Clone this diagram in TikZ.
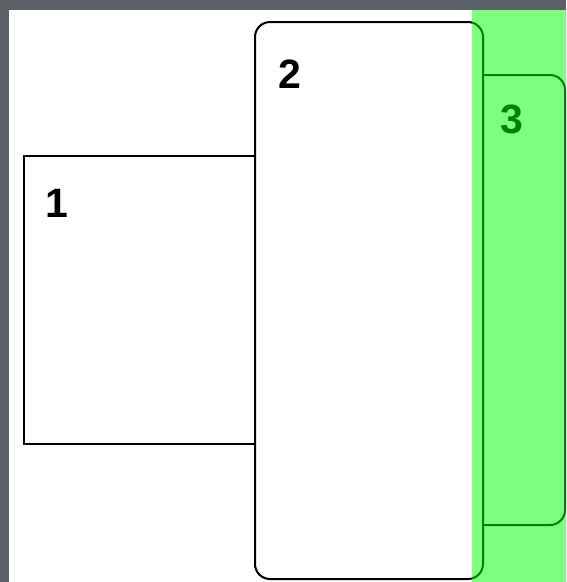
\documentclass[tikz,border=0pt]{standalone}
\usepackage{fontspec}
\setmainfont{Liberation Sans}
\definecolor{slate}{RGB}{92,97,103}
\definecolor{pane}{RGB}{0,255,0}
\begin{document}
\begin{tikzpicture}[x=1pt, y=-1pt, line width=2pt,
		box/.style={draw=black, fill=white, anchor=north west, inner sep=0pt},
		num/.style={font=\bfseries\fontsize{41}{41}\selectfont, inner sep=0pt}]
	\fill[slate] (0,0) rectangle (566,582);
	\fill[white] (9,10) rectangle (566,582);
	% panels
	\node[box, minimum width=231pt, minimum height=288pt] (box1) at (23,155) {};
	\node[box, rounded corners=15pt, minimum width=104pt, minimum height=450pt] (box3) at (460,74) {};
	\node[box, rounded corners=15pt, minimum width=228pt, minimum height=557pt] (box2) at (254,21) {};
	\node[num] (n1) at (57,203) {1};
	\node[num] (n2) at (290,74) {2};
	\node[num] (n3) at (512,119) {3};
	% highlight strip
	\fill[pane, opacity=0.5] (472,10) rectangle (566,582);
\end{tikzpicture}
\end{document}
